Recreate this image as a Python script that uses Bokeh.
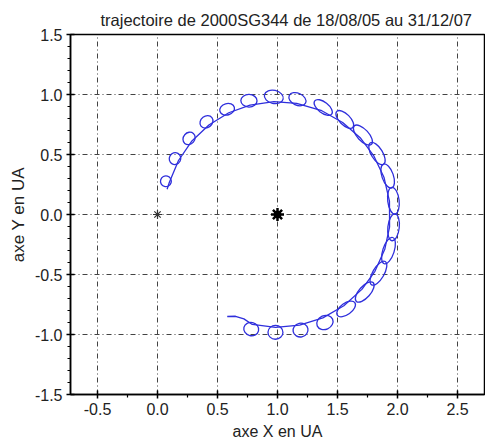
from bokeh.plotting import figure
from bokeh.models import Range1d, FixedTicker, ColumnDataSource
from bokeh.embed import file_html
from bokeh.resources import INLINE

# ---- data (AU) ----
title_text = "trajectoire de 2000SG344 de 18/08/05 au 31/12/07"
x_label = "axe X en UA"
y_label = "axe Y en UA"

x_ticks = [-0.5, 0.0, 0.5, 1.0, 1.5, 2.0, 2.5]
x_tick_labels = ["-0.5", "0.0", "0.5", "1.0", "1.5", "2.0", "2.5"]
x_minor = [-0.25, 0.25, 0.75, 1.25, 1.75, 2.25]
y_ticks = [-1.5, -1.0, -0.5, 0.0, 0.5, 1.0, 1.5]
y_tick_labels = ["-1.5", "-1.0", "-0.5", "0.0", "0.5", "1.0", "1.5"]
y_minor = [-1.4, -1.3, -1.2, -1.1, -0.9, -0.8, -0.7, -0.6, -0.4, -0.3, -0.2, -0.1,
           0.1, 0.2, 0.3, 0.4, 0.6, 0.7, 0.8, 0.9, 1.1, 1.2, 1.3, 1.4]

# loops of the trajectory: centre, radial size, tangential size, orientation (deg)
loop_x = [0.781, 0.983, 1.192, 1.395, 1.572, 1.727, 1.841, 1.925, 1.967, 1.966, 1.918, 1.829,
          1.712, 1.561, 1.381, 1.166, 0.969, 0.762, 0.580, 0.408, 0.263, 0.146, 0.070]
loop_y = [-0.955, -0.982, -0.963, -0.900, -0.787, -0.646, -0.489, -0.301, -0.107, 0.115, 0.321, 0.508,
          0.662, 0.792, 0.892, 0.961, 0.980, 0.948, 0.877, 0.772, 0.634, 0.466, 0.277]
loop_radial = [0.110, 0.115, 0.115, 0.115, 0.095, 0.095, 0.095, 0.095, 0.095, 0.095, 0.095, 0.095,
               0.095, 0.090, 0.090, 0.100, 0.110, 0.105, 0.095, 0.095, 0.095, 0.095, 0.090]
loop_tangential = [0.125, 0.125, 0.125, 0.140, 0.180, 0.210, 0.225, 0.230, 0.225, 0.225, 0.210, 0.210,
                   0.210, 0.190, 0.180, 0.150, 0.160, 0.135, 0.125, 0.115, 0.110, 0.100, 0.090]
loop_angle = [-102.9, -91.0, -78.7, -66.3, -54.0, -41.6, -30.2, -18.0, -6.3, 6.8, 19.3, 31.5,
              42.9, 44.7, 51.9, 65.2, 76.8, 89.1, 105.6, 127.5, 139.3, 151.4, 163.4]

# inner guiding line of the trajectory (with both end tails)
path_x = [0.581, 0.650, 0.720, 0.790, 0.984, 1.184, 1.378, 1.553, 1.703, 1.812, 1.894, 1.934, 1.933,
          1.887, 1.801, 1.689, 1.543, 1.369, 1.160, 0.970, 0.771, 0.594, 0.428, 0.287, 0.175, 0.099, 0.080]
path_y = [-0.850, -0.848, -0.870, -0.916, -0.940, -0.922, -0.861, -0.760, -0.624, -0.473, -0.290, -0.103, 0.111,
          0.311, 0.491, 0.640, 0.767, 0.865, 0.926, 0.940, 0.912, 0.848, 0.746, 0.613, 0.450, 0.269, 0.210]

sun_x, sun_y = [0.0], [0.0]
earth_x, earth_y = [1.0], [0.0]

BLUE = "#2f2fdc"
FONT = "Liberation Sans"

p = figure(frame_width=414, frame_height=360,
           x_range=Range1d(-0.725, 2.725), y_range=Range1d(-1.5, 1.5),
           output_backend="svg", toolbar_location=None,
           min_border_left=70, min_border_right=1, min_border_top=34, min_border_bottom=50)

p.title.text = title_text
p.title.align = "left"
p.title.offset = 30
p.title.text_font = FONT
p.title.text_font_style = "normal"
p.title.text_font_size = "16.5px"
p.title.text_color = "#222222"
p.title.standoff = 12

p.xaxis.axis_label = x_label
p.yaxis.axis_label = y_label
p.xaxis.ticker = FixedTicker(ticks=x_ticks, minor_ticks=x_minor)
p.yaxis.ticker = FixedTicker(ticks=y_ticks, minor_ticks=y_minor)
p.xaxis.major_label_overrides = dict(zip(x_ticks, x_tick_labels))
p.yaxis.major_label_overrides = dict(zip(y_ticks, y_tick_labels))

for ax in (p.xaxis[0], p.yaxis[0]):
    ax.axis_label_text_font = FONT
    ax.axis_label_text_font_style = "normal"
    ax.axis_label_text_color = "#222222"
    ax.major_label_text_font = FONT
    ax.major_label_text_font_size = "16px"
    ax.major_label_text_color = "#222222"
    ax.axis_line_width = 1.5
    ax.axis_line_color = "black"
    ax.major_tick_in = 4
    ax.major_tick_out = 4
    ax.minor_tick_in = 0
    ax.minor_tick_out = 3
    ax.major_tick_line_width = 1.5
    ax.minor_tick_line_width = 1.2
    ax.major_label_standoff = 4

p.xaxis.axis_label_text_font_size = "16px"
p.xaxis.axis_label_standoff = 5
p.yaxis.axis_label_text_font_size = "17px"
p.yaxis.axis_label_standoff = 4

p.grid.grid_line_color = "#444444"
p.grid.grid_line_dash = "5 3 1 3"
p.grid.grid_line_width = 1

p.outline_line_color = "black"
p.outline_line_width = 1.5
p.outline_line_alpha = 1.0
p.background_fill_color = "white"
p.border_fill_color = "white"

loops = ColumnDataSource(dict(x=loop_x, y=loop_y, w=loop_radial, h=loop_tangential, a=loop_angle))
p.ellipse(x="x", y="y", width="w", height="h", angle="a", angle_units="deg", source=loops,
          fill_color=None, line_color=BLUE, line_width=1.3)
p.line(path_x, path_y, line_color=BLUE, line_width=1.3)

p.scatter(sun_x, sun_y, marker="asterisk", size=9, line_color="#333333", line_width=1.2)
p.scatter(earth_x, earth_y, marker="circle", size=7, fill_color="black", line_color="black")
p.scatter(earth_x, earth_y, marker="asterisk", size=13, line_color="black", line_width=2.5)

open("out.html", "w").write(file_html(p, INLINE))
